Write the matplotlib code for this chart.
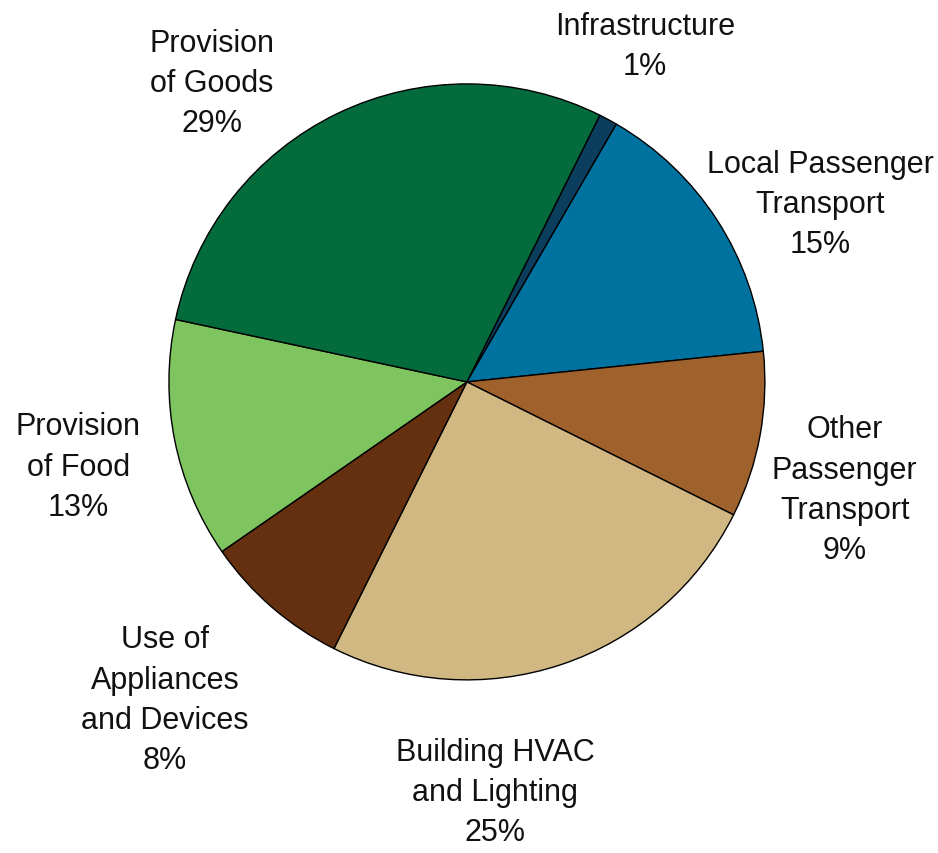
import numpy as np
import matplotlib
matplotlib.use("Agg")
import matplotlib.pyplot as plt
from matplotlib import font_manager

labels = ["Infrastructure", "Local Passenger\nTransport", "Other\nPassenger\nTransport",
          "Building HVAC\nand Lighting", "Use of\nAppliances\nand Devices",
          "Provision\nof Food", "Provision\nof Goods"]
shares = [1, 15, 9, 25, 8, 13, 29]
colors = ["#0b3d5c", "#0072a0", "#a0622c", "#d1b883", "#64300f", "#7ec45f", "#036b3c"]

names = {f.name for f in font_manager.fontManager.ttflist}
family = "Liberation Sans Narrow" if "Liberation Sans Narrow" in names else "Liberation Sans"

fig = plt.figure(figsize=(9.38, 8.54), dpi=100)
ax = fig.add_axes([0, 0, 1, 1])
ax.pie(shares, colors=colors, startangle=63.5, counterclock=False,
       wedgeprops=dict(edgecolor="black", linewidth=1.0))
ax.set_xlim(-1.567, 1.581)
ax.set_ylim(-1.581, 1.285)
ax.set_aspect("auto")
ax.axis("off")

# label centres (data units, radius = 1)
label_xy = [(0.597, 1.128), (1.185, 0.597), (1.268, -0.362), (0.094, -1.376),
            (-1.013, -1.067), (-1.305, -0.285), (-0.856, 1.003)]
for lab, s, (x, y) in zip(labels, shares, label_xy):
    ax.text(x, y, f"{lab}\n{s}%", ha="center", va="center", fontsize=22,
            family=family, linespacing=1.45, color="#111111")

fig.savefig("out.png", dpi=100)
